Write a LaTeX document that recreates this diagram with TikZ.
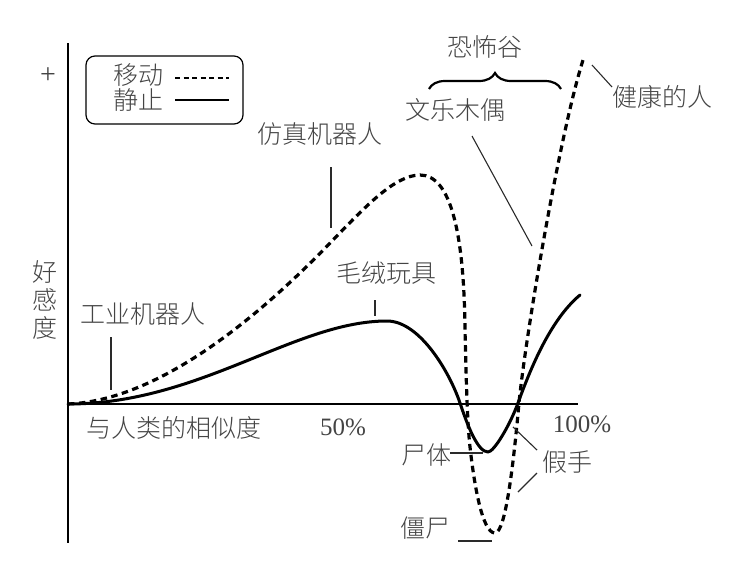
\documentclass[tikz,border=0pt]{standalone}
\usepackage{fontspec}
\setmainfont{Liberation Serif}
\newfontfamily\cjk{Noto Sans CJK SC Light}
\usetikzlibrary{decorations.pathreplacing}
\definecolor{txt}{HTML}{444444}
\definecolor{ld}{HTML}{2A2A2A}
\begin{document}
\begin{tikzpicture}[x=1pt,y=-1pt,
  lbl/.style={font=\cjk\fontsize{25}{28}\selectfont, text=txt, inner sep=0pt},
  num/.style={font=\fontsize{25}{28}\selectfont, text=txt, inner sep=0pt},
  leader/.style={draw=ld, line width=1.1pt},
  axisline/.style={line width=2pt},
  statcurve/.style={line width=3pt, line cap=round, line join=round},
  movecurve/.style={line width=3.2pt, dash pattern=on 6.5pt off 4.5pt},
]
\useasboundingbox (0,0) rectangle (750,565);
% axes
\coordinate (O) at (68,404);
\coordinate (ytop) at (68,43);
\coordinate (ybot) at (68,543);
\coordinate (xend) at (578,404);
\draw[axisline] (ytop) -- (ybot);
\draw[axisline] (O) -- (xend);
\node[num, font=\fontsize{28}{30}\selectfont] (plus) at (48,76) {+};
\node[lbl, align=center] (ylab) at (45,300) {好\\感\\度};
\node[lbl] (xlab) at (174,428) {与人类的相似度};
\node[num] (p50) at (343,427) {50\%};
\node[num] (p100) at (582,424) {100\%};
% legend
\node[draw, line width=1.2pt, rounded corners=9pt, minimum width=157pt, minimum height=68pt, inner sep=0pt] (legend) at (164.5,90) {};
\node[lbl] (lmove) at (138,75) {移动};
\node[lbl] (lstat) at (138,100) {静止};
\coordinate (lm1) at (175,78);
\coordinate (lm2) at (229,78);
\coordinate (ls1) at (175,100);
\coordinate (ls2) at (229,100);
\draw[line width=2.6pt, dash pattern=on 5pt off 3.5pt] (lm1) -- (lm2);
\draw[line width=2.6pt] (ls1) -- (ls2);
% curves
\coordinate (mpeak) at (420,175);
\coordinate (mmin) at (495,533);
\coordinate (mend) at (584,57);
\draw[movecurve] (O) .. controls (170,400) and (280,295) .. (333,240)
  .. controls (365,207) and (395,175) .. (mpeak)
  .. controls (450,175) and (464,230) .. (465,330)
  .. controls (466,370) and (467,420) .. (470,447)
  .. controls (474,483) and (482,533) .. (mmin)
  .. controls (506,533) and (514,458) .. (519,403)
  .. controls (525,340) and (560,130) .. (mend);
\coordinate (speak) at (387,321);
\coordinate (smin) at (488,452);
\coordinate (send) at (580,295);
\draw[statcurve] (O) .. controls (200,404) and (295,321) .. (speak)
  .. controls (420,321) and (450,373) .. (460,403)
  .. controls (468,427) and (478,452) .. (smin)
  .. controls (494,452) and (510,425) .. (518,403)
  .. controls (530,370) and (550,320) .. (send);
% labels and leaders
\node[lbl] (fzjqr) at (320,134) {仿真机器人};
\coordinate (fz1) at (331,167);
\coordinate (fz2) at (331,228);
\draw[leader] (fz1) -- (fz2);
\node[lbl] (gyjqr) at (143,314) {工业机器人};
\coordinate (gy1) at (111,337);
\coordinate (gy2) at (111,390);
\draw[leader] (gy1) -- (gy2);
\node[lbl] (mrwj) at (386,273) {毛绒玩具};
\coordinate (mr1) at (375,300);
\coordinate (mr2) at (375,316);
\draw[leader] (mr1) -- (mr2);
\node[lbl] (kbg) at (485,47) {恐怖谷};
\coordinate (bl) at (429,89);
\coordinate (br) at (561,89);
\draw[line width=2.2pt, decorate, decoration={brace, amplitude=16pt}] (bl) -- (br);
\node[lbl] (wlmo) at (455,110) {文乐木偶};
\coordinate (wl1) at (472,136);
\coordinate (wl2) at (532,246);
\draw[leader] (wl1) -- (wl2);
\node[lbl] (jkdr) at (662,97) {健康的人};
\coordinate (jk1) at (592,65);
\coordinate (jk2) at (612,87);
\draw[leader] (jk1) -- (jk2);
\node[lbl] (st) at (426,455) {尸体};
\coordinate (st1) at (450,453);
\coordinate (st2) at (483,453);
\draw[leader] (st1) -- (st2);
\node[lbl] (js) at (567,462) {假手};
\coordinate (js1) at (513,427);
\coordinate (js2) at (537,450);
\coordinate (js3) at (537,473);
\coordinate (js4) at (518,492);
\draw[leader] (js1) -- (js2);
\draw[leader] (js3) -- (js4);
\node[lbl] (jiangs) at (425,528) {僵尸};
\coordinate (jg1) at (458,541);
\coordinate (jg2) at (492,541);
\draw[leader] (jg1) -- (jg2);
\end{tikzpicture}
\end{document}
